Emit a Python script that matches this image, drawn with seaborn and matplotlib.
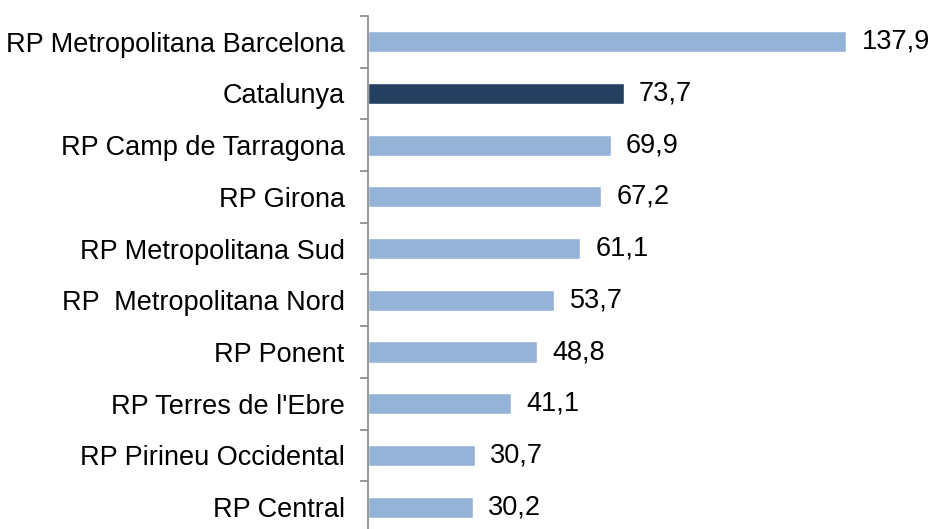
import matplotlib
matplotlib.use("Agg")
import matplotlib.pyplot as plt
import seaborn as sns
import pandas as pd
import numpy as np

categories = ["RP Metropolitana Barcelona", "Catalunya", "RP Camp de Tarragona", "RP Girona",
              "RP Metropolitana Sud", "RP  Metropolitana Nord", "RP Ponent", "RP Terres de l'Ebre",
              "RP Pirineu Occidental", "RP Central"]
values = [137.9, 73.7, 69.9, 67.2, 61.1, 53.7, 48.8, 41.1, 30.7, 30.2]
highlight = "Catalunya"

sns.set_style("white")
plt.rcParams['font.family'] = ['Liberation Sans', 'DejaVu Sans']

df = pd.DataFrame({"cat": categories, "val": values})
df["grp"] = ["hi" if c == highlight else "lo" for c in categories]

fig = plt.figure(figsize=(9.3, 5.29), dpi=100)
ax = fig.add_axes([0.396, -0.0076, 0.600, 0.9776])

sns.barplot(data=df, y="cat", x="val", hue="grp", orient="h",
            palette={"hi": "#243F60", "lo": "#95B3D7"}, width=0.41, saturation=1,
            dodge=False, legend=False, ax=ax, order=categories)

for cont in ax.containers:
    ax.bar_label(cont, labels=[f"{v:.1f}".replace(".", ",") for v in cont.datavalues],
                 padding=11, fontsize=19.5, color="#000000")

ax.set_xlim(0, 161)
ax.set_ylim(len(categories) - 0.5, -0.5)
ax.set_xlabel("")
ax.set_ylabel("")
ax.set_xticks([])
for s in ["top", "right", "bottom"]:
    ax.spines[s].set_visible(False)
ax.spines["left"].set_color("#868686")
ax.spines["left"].set_linewidth(1.2)

ax.set_yticks(range(len(categories)))
ax.set_yticklabels(categories, fontsize=19.5, color="#000000")
ax.tick_params(axis="y", which="major", length=0, pad=17)
ax.set_yticks(np.arange(-0.5, len(categories) + 0.5, 1), minor=True)
ax.tick_params(axis="y", which="minor", left=True, length=6, width=1.2,
               color="#868686", direction="out")

fig.savefig("out.png", dpi=100)
